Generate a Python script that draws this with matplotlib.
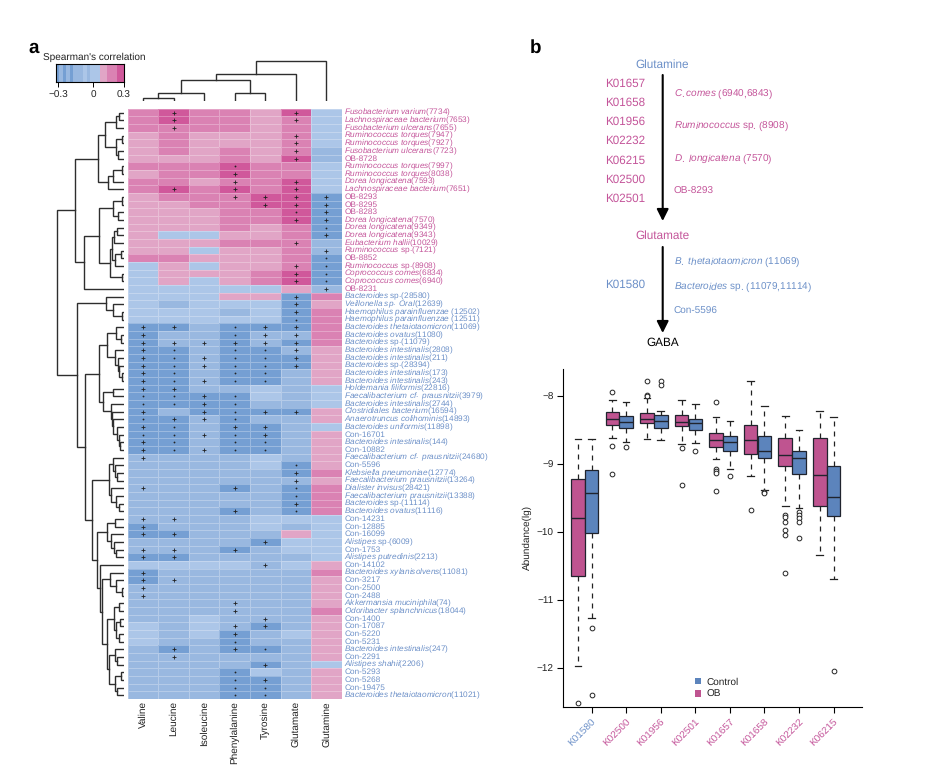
import matplotlib
matplotlib.use("Agg")
import numpy as np
import matplotlib.pyplot as plt
from matplotlib.colors import ListedColormap, BoundaryNorm
from matplotlib.patches import Patch

plt.rcParams['font.family'] = ['Liberation Sans', 'DejaVu Sans']
plt.rcParams['mathtext.fontset'] = 'custom'
plt.rcParams['mathtext.it'] = 'Liberation Sans:italic'
plt.rcParams['mathtext.rm'] = 'Liberation Sans'
plt.rcParams['mathtext.default'] = 'regular'
plt.rcParams['text.hinting'] = 'no_hinting'

W, H = 933, 773
PINK = '#C4559A'
BLUE = '#6C90C8'
OB_COL = '#BF5490'
CON_COL = '#5C84BC'

# ---------------- panel a data ----------------
amino_acids = ['Valine', 'Leucine', 'Isoleucine', 'Phenylalanine', 'Tyrosine', 'Glutamate', 'Glutamine']

taxa_italic = [
    'Fusobacterium varium', 'Lachnospiraceae bacterium', 'Fusobacterium ulcerans', 'Ruminococcus torques',
    'Ruminococcus torques', 'Fusobacterium ulcerans', '', 'Ruminococcus torques', 'Ruminococcus torques',
    'Dorea longicatena', 'Lachnospiraceae bacterium', '', '', '', 'Dorea longicatena', 'Dorea longicatena',
    'Dorea longicatena', 'Eubacterium hallii', 'Ruminococcus', '', 'Ruminococcus', 'Coprococcus comes',
    'Coprococcus comes', '', 'Bacteroides', 'Veillonella sp. Oral', 'Haemophilus parainfluenzae',
    'Haemophilus parainfluenzae', 'Bacteroides thetaiotaomicron', 'Bacteroides ovatus', 'Bacteroides',
    'Bacteroides intestinalis', 'Bacteroides intestinalis', 'Bacteroides', 'Bacteroides intestinalis',
    'Bacteroides intestinalis', 'Holdemania filiformis', 'Faecalibacterium cf. prausnitzii',
    'Bacteroides intestinalis', 'Clostridiales bacterium', 'Anaerotruncus colihominis', 'Bacteroides uniformis',
    '', 'Bacteroides intestinalis', '', 'Faecalibacterium cf. prausnitzii', '', 'Klebsiella pneumoniae',
    'Faecalibacterium prausnitzii', 'Dialister invisus', 'Faecalibacterium prausnitzii', 'Bacteroides',
    'Bacteroides ovatus', '', '', '', 'Alistipes', '', 'Alistipes putredinis', '', 'Bacteroides xylanisolvens',
    '', '', '', 'Akkermansia muciniphila', 'Odoribacter splanchnicus', '', '', '', '',
    'Bacteroides intestinalis', '', 'Alistipes shahii', '', '', '', 'Bacteroides thetaiotaomicron']

taxa_plain = [
    '(7734)', '(7653)', '(7655)', '(7947)', '(7927)', '(7723)', 'OB-8728', '(7997)', '(8038)', '(7593)', '(7651)',
    'OB-8293', 'OB-8295', 'OB-8283', '(7570)', '(9349)', '(9343)', '(10029)', ' sp.(7121)', 'OB-8852', ' sp.(8908)',
    '(6834)', '(6940)', 'OB-8231', ' sp.(28580)', '(12639)', ' (12502)', ' (12511)', '(11069)', '(11080)',
    ' sp.(11079)', '(2808)', '(211)', ' sp.(28394)', '(173)', '(243)', '(22816)', '(3979)', '(2744)', '(16594)',
    '(14893)', '(11898)', 'Con-16701', '(144)', 'Con-10882', '(24680)', 'Con-5596', '(12774)', '(13264)', '(28421)',
    '(13388)', ' sp.(11114)', '(11116)', 'Con-14231', 'Con-12885', 'Con-16099', ' sp.(6009)', 'Con-1753', '(2213)',
    'Con-14102', '(11081)', 'Con-3217', 'Con-2500', 'Con-2488', '(74)', '(18044)', 'Con-1400', 'Con-17087',
    'Con-5220', 'Con-5231', '(247)', 'Con-2291', '(2206)', 'Con-5293', 'Con-5268', 'Con-19475', '(11021)']

n_pink_taxa = 24

correlation = np.array([
    [.2,.3,.2,.2,.1,.3,-.1],[.2,.3,.2,.2,.1,.2,-.1],[.2,.2,.2,.2,.1,.2,-.1],[.1,.2,.1,.1,.1,.2,-.1],
    [.1,.2,.1,.1,.1,.2,-.1],[.1,.2,.1,.2,.1,.2,-.2],[.1,.1,.1,.2,.1,.3,-.2],[.2,.2,.2,.3,.2,.2,-.1],
    [.1,.2,.2,.3,.2,.2,-.1],[.2,.2,.1,.2,.2,.3,-.1],[.2,.3,.2,.3,.2,.3,-.1],[.1,.2,.2,.2,.3,.3,-.3],
    [.1,.1,.2,.2,.3,.3,-.3],[.1,.1,.1,.2,.2,.3,-.3],[.1,.1,.1,.2,.2,.3,-.3],[.1,.1,.1,.2,.1,.2,-.3],
    [.1,-.1,-.1,.1,.1,.2,-.3],[.1,.1,.1,.2,.2,.2,-.2],[.1,.1,-.1,.1,.1,.2,-.2],[.2,.2,.1,.1,.1,.2,-.3],
    [-.1,.1,-.1,.1,.1,.2,-.3],[-.1,.1,.1,.1,.2,.3,-.3],[-.1,.1,-.1,.1,.2,.3,-.3],[-.1,-.1,-.1,-.1,-.1,.1,-.2],
    [-.1,-.1,-.1,.1,.1,-.3,.2],[-.1,-.2,-.1,-.1,-.1,-.3,.1],[-.1,-.1,-.1,-.2,-.1,-.3,.2],[-.1,-.1,-.1,-.1,-.1,-.3,.2],
    [-.3,-.3,-.2,-.3,-.3,-.3,.2],[-.3,-.2,-.2,-.3,-.2,-.2,.2],[-.3,-.2,-.2,-.3,-.2,-.3,.2],[-.3,-.3,-.2,-.3,-.3,-.2,.1],
    [-.3,-.3,-.2,-.3,-.3,-.3,.1],[-.3,-.3,-.2,-.3,-.3,-.3,.1],[-.3,-.3,-.2,-.3,-.3,-.2,.1],[-.3,-.3,-.2,-.3,-.3,-.2,.1],
    [-.3,-.3,-.2,-.2,-.1,-.2,-.1],[-.3,-.3,-.3,-.3,-.1,-.2,-.1],[-.3,-.3,-.3,-.3,-.2,-.2,-.1],[-.3,-.2,-.3,-.3,-.3,-.3,.1],
    [-.3,-.3,-.2,-.3,-.2,-.2,.1],[-.3,-.3,-.2,-.3,-.3,-.2,-.1],[-.3,-.3,-.2,-.3,-.3,-.2,.1],[-.3,-.3,-.2,-.3,-.3,-.2,.1],
    [-.3,-.3,-.2,-.3,-.3,-.2,.1],[-.2,-.2,-.2,-.2,-.1,-.2,.1],[-.2,-.2,-.2,-.2,-.1,-.3,.1],[-.2,-.2,-.2,-.2,-.2,-.3,.2],
    [-.2,-.2,-.2,-.2,-.2,-.2,.1],[-.2,-.2,-.2,-.3,-.2,-.3,.2],[-.2,-.2,-.2,-.2,-.2,-.3,.2],[-.2,-.2,-.2,-.2,-.2,-.3,.2],
    [-.2,-.2,-.2,-.3,-.2,-.3,.2],[-.2,-.2,-.2,-.2,-.1,-.1,-.1],[-.3,-.2,-.2,-.2,-.1,-.2,-.1],[-.3,-.3,-.2,-.2,-.2,.1,-.1],
    [-.2,-.2,-.2,-.2,-.3,-.1,-.1],[-.2,-.2,-.2,-.3,-.2,-.1,-.1],[-.3,-.3,-.2,-.2,-.2,-.2,-.1],[-.1,-.1,-.1,-.1,-.2,-.1,.1],
    [-.3,-.2,-.2,-.2,-.2,-.2,.2],[-.3,-.2,-.2,-.2,-.2,-.2,.1],[-.2,-.2,-.2,-.2,-.2,-.2,.1],[-.2,-.2,-.2,-.2,-.2,-.2,.1],
    [-.2,-.2,-.2,-.2,-.2,-.2,.1],[-.2,-.2,-.2,-.2,-.2,-.2,.2],[-.2,-.2,-.1,-.2,-.2,-.2,.1],[-.1,-.2,-.1,-.2,-.3,-.2,.1],
    [-.1,-.2,-.1,-.3,-.2,-.1,.1],[-.1,-.2,-.2,-.3,-.2,-.2,.1],[-.2,-.3,-.2,-.3,-.3,-.2,.1],[-.2,-.2,-.2,-.2,-.2,-.2,.1],
    [-.2,-.2,-.2,-.2,-.3,-.2,-.1],[-.2,-.2,-.2,-.3,-.1,-.2,.1],[-.2,-.2,-.2,-.3,-.3,-.2,.1],[-.2,-.2,-.2,-.3,-.3,-.2,.1],
    [-.2,-.2,-.2,-.3,-.3,-.2,.1]])

significance = [
    ' +   + ', ' +   + ', ' +     ', '     + ', '     + ', '     + ', '     + ', '   .   ', '   +   ', '   + + ',
    ' + + + ', '   ++++', '    +++', '     .+', '     ++', '      .', '      +', '     + ', '      +', '      .',
    '     +.', '     +.', '     +.', '      +', '     + ', '     + ', '     + ', '     . ', '++ .++ ', '+  .++ ',
    '++++++ ', '+. ..+ ', '+.+..+ ', '+.+..+ ', '+. ..  ', '+.+..  ', '++     ', '..+.   ', '..+.   ', '+ +.++ ',
    '.++.   ', '+. ++  ', '..+.+  ', '+. ..  ', '+.+..  ', '+      ', '     . ', '     + ', '     + ', '+  + . ',
    '     . ', '     + ', '   + . ', '++     ', '+      ', '++     ', '    +  ', '++ +   ', '++     ', '    +  ',
    '+      ', '++     ', '+      ', '+      ', '   +   ', '   +   ', '    +  ', '   ++  ', '   +   ', '   .   ',
    ' + +.  ', ' +     ', '    +  ', '   .   ', '   .+  ', '   ..  ', '   ..  ']

# dendrogram node = (height, child, child); int = row or column number
left_tree = (67,
    (49,
        (26,
            (19, (8, (5, 1, 2), 3), (8, (2, 4, 5), (6, 6, 7))),
            (16, (11, (2, 8, 9), 10), 11)),
        (40,
            (25,
                (11, (2, 12, 13), (6, 14, 15)),
                (14, (12, (10, (7, 16, 17), 18), (9, (3, 19, 20), 21)), (2, 22, 23))),
            24)),
    (47,
        (18, 25, (11, 26, (2, 27, 28))),
        (39,
            (25,
                (17, (8, 29, (3, 30, 31)), (9, 32, (6, 33, (5, 34, (2, 35, 36))))),
                (21, (11, 37, 38), (13, 39, (12, 40, (11, 41, (7, 42, (5, 43, (4, 44, 45)))))))),
            (32,
                (15, (11, 46, (9, 47, (7, 48, 49))), (13, 50, (8, 51, (5, 52, 53)))),
                (27,
                    (17, (9, 54, 55), (13, 56, (10, 57, (8, 58, 59)))),
                    (24, 60,
                        (22,
                            (14, 61, (8, 62, (2, 63, 64))),
                            (17,
                                (10, (5, 65, 66), (8, (4, 67, 68), (5, 69, 70))),
                                (15, (9, 71, (7, 72, 73)), (9, (3, 74, 75), (7, 76, 77)))))))))))

top_tree = (40, (26.7, (20.7, (8, (2.7, 1, 2), 3), (8, 4, 5)), 6), 7)

colorbar_cells = [-.3,-.25,-.3,-.25,-.3,-.2,-.2,-.2,-.1,-.2,-.1,-.1,-.1,.1,.1,.2,.2,.2,.3,.3]
colorbar_tick_cells = [0.6, 10.9, 19.9]
colorbar_tick_text = ['\u22120.3', '0', '0.3']

# ---------------- panel b data ----------------
ko_gln_glu = ['K01657', 'K01658', 'K01956', 'K02232', 'K06215', 'K02500', 'K02501']
ko_glu_gaba = ['K01580']
taxa_gln_glu = [('C.comes', ' (6940,6843)'), ('Ruminococcus', ' sp. (8908)'), ('D. longicatena', ' (7570)'), ('', 'OB-8293')]
taxa_glu_gaba = [('B. thetaiotaomicron', ' (11069)'), ('Bacteroides', ' sp. (11079,11114)'), ('', 'Con-5596')]

box_genes = ['K01580', 'K02500', 'K01956', 'K02501', 'K01657', 'K01658', 'K02232', 'K06215']
ob_q1 = [-10.65, -8.42, -8.40, -8.44, -8.75, -8.85, -9.03, -9.62]
ob_med = [-9.80, -8.33, -8.34, -8.38, -8.64, -8.65, -8.86, -9.16]
ob_q3 = [-9.22, -8.23, -8.25, -8.27, -8.54, -8.42, -8.62, -8.61]
ob_lo = [-11.97, -8.61, -8.63, -8.71, -8.93, -9.17, -9.62, -10.34]
ob_hi = [-8.63, -8.06, -8.02, -8.06, -8.30, -7.78, -8.29, -8.22]
ob_fliers = [[-12.52], [-7.94, -8.73, -9.14], [-7.78, -7.98, -8.00], [-8.76, -9.31],
             [-8.08, -9.07, -9.10, -9.13, -9.39], [-9.67], [-9.75, -9.78, -9.86, -9.97, -10.04, -10.61], []]
con_q1 = [-10.01, -8.46, -8.47, -8.49, -8.80, -8.91, -9.14, -9.76]
con_med = [-9.43, -8.38, -8.36, -8.40, -8.67, -8.80, -8.91, -9.49]
con_q3 = [-9.09, -8.29, -8.28, -8.33, -8.59, -8.58, -8.80, -9.02]
con_lo = [-11.27, -8.68, -8.65, -8.69, -9.07, -9.38, -9.64, -10.70]
con_hi = [-8.63, -8.08, -8.21, -8.12, -8.37, -8.15, -8.49, -8.31]
con_fliers = [[-11.41, -12.40], [-8.75], [-7.77, -7.84], [-8.80], [-9.18], [-9.41, -9.43],
              [-9.71, -9.75, -9.80, -9.86, -10.09], [-12.05]]


# ---------------- helpers ----------------
fig = plt.figure(figsize=(W / 100, H / 100), dpi=100, facecolor='white')

def ax_px(x0, y0, x1, y1, **kw):
    return fig.add_axes([x0 / W, 1 - y1 / H, (x1 - x0) / W, (y1 - y0) / H], **kw)

def rich(it, pl):
    s = ''
    if it:
        s += r'$\mathit{' + it.replace(' ', r'\ ') + '}$'
    return s + pl

def draw_tree(ax, node, horizontal, col='#2e2e2e'):
    if isinstance(node, int):
        return node - 0.5, 0
    h, a, b = node
    pa, ha = draw_tree(ax, a, horizontal, col)
    pb, hb = draw_tree(ax, b, horizontal, col)
    if horizontal:
        ax.plot([ha, h, h, hb], [pa, pa, pb, pb], color=col, lw=1.0, solid_joinstyle='miter')
    else:
        ax.plot([pa, pa, pb, pb], [ha, h, h, hb], color=col, lw=1.0, solid_joinstyle='miter')
    return (pa + pb) / 2, h

# ---------------- heatmap ----------------
HX0, HX1, HY0, HY1 = 127.7, 341.7, 108.7, 699.0
n_rows, n_cols = correlation.shape
levels = [-.35, -.25, -.15, 0, .15, .25, .35]
heat_cols = ['#759FD3', '#99B8E0', '#ACC6E8', '#E1A5C6', '#DA82B3', '#D0589B']
cmap = ListedColormap(heat_cols)
norm = BoundaryNorm(levels, cmap.N)

ax = ax_px(HX0, HY0, HX1, HY1)
ax.pcolormesh(np.arange(n_cols + 1), np.arange(n_rows + 1), correlation, cmap=cmap, norm=norm,
              edgecolors=(1, 1, 1, 0.28), linewidth=0.6)
ax.set_xlim(0, n_cols)
ax.set_ylim(n_rows, 0)
for r, row in enumerate(significance):
    for c, ch in enumerate(row):
        if ch == '+':
            ax.plot(c + .5, r + .5, marker='+', ms=3.4, mew=0.6, color='#222222')
        elif ch == '.':
            ax.plot(c + .5, r + .5, marker='o', ms=1.3, mew=0, color='#222222')
ax.set_xticks(np.arange(n_cols) + .5)
ax.set_xticklabels(amino_acids, rotation=90, fontsize=7.2, color='#222222', va='top', ha='center')
ax.tick_params(axis='x', length=0, pad=1.5)
ax.yaxis.tick_right()
ax.set_yticks(np.arange(n_rows) + .5)
ax.set_yticklabels([rich(i, p) for i, p in zip(taxa_italic, taxa_plain)], fontsize=5.95, va='center')
ax.tick_params(axis='y', length=0, pad=2)
for i, lab in enumerate(ax.get_yticklabels()):
    lab.set_color(PINK if i < n_pink_taxa else BLUE)
for s in ax.spines.values():
    s.set_visible(False)

# dendrograms
axl = ax_px(30, HY0, 124, HY1)
draw_tree(axl, left_tree, True)
axl.set_xlim(94, 0)
axl.set_ylim(n_rows, 0)
axl.axis('off')

axt = ax_px(HX0, 50, HX1, 100.7)
draw_tree(axt, top_tree, False)
axt.set_xlim(0, n_cols)
axt.set_ylim(0, 50.7)
axt.axis('off')

# colour key
axc = ax_px(56, 64.3, 124, 81.7)
axc.pcolormesh(np.arange(len(colorbar_cells) + 1), [0, 1], np.array([colorbar_cells]), cmap=cmap, norm=norm)
axc.set_yticks([])
axc.set_xticks(colorbar_tick_cells)
axc.set_xticklabels(colorbar_tick_text, fontsize=7.2, color='#222222')
axc.tick_params(axis='x', length=3.8, width=0.7, pad=2.5)
for s in axc.spines.values():
    s.set_linewidth(0.8)

# ---------------- boxplots ----------------
def stats(q1, med, q3, lo, hi, fl):
    return [dict(med=m, q1=a, q3=b, whislo=l, whishi=h, fliers=f)
            for a, m, b, l, h, f in zip(q1, med, q3, lo, hi, fl)]

axb = ax_px(563.3, 368.5, 862.3, 707.3)
tick_pos = np.arange(len(box_genes))
BOX_W = 0.395
for st, pos, col in ((stats(ob_q1, ob_med, ob_q3, ob_lo, ob_hi, ob_fliers), tick_pos - 0.4, OB_COL),
                     (stats(con_q1, con_med, con_q3, con_lo, con_hi, con_fliers), tick_pos, CON_COL)):
    axb.bxp(st, positions=pos, widths=BOX_W, patch_artist=True, manage_ticks=False, capwidths=0.19,
            boxprops=dict(facecolor=col, edgecolor='#20242e', linewidth=0.9),
            medianprops=dict(color='#20242e', linewidth=1.0),
            whiskerprops=dict(color='#222222', linewidth=0.9, linestyle=(0, (4, 4))),
            capprops=dict(color='#222222', linewidth=0.9),
            flierprops=dict(marker='o', ms=3.4, mfc='white', mec='#222222', mew=0.7, ls='none'))
axb.set_xlim(-0.82, 7.83)
axb.set_ylim(-12.584, -7.59)
axb.set_yticks([-8, -9, -10, -11, -12])
axb.set_yticklabels(['\u22128', '\u22129', '\u221210', '\u221211', '\u221212'], fontsize=7.2, color='#222222')
axb.set_xticks(tick_pos)
axb.set_xticklabels(box_genes, rotation=45, ha='right', rotation_mode='anchor', fontsize=7.2)
for i, lab in enumerate(axb.get_xticklabels()):
    lab.set_color(BLUE if i == 0 else PINK)
axb.tick_params(axis='both', length=4.6, width=0.8, pad=2.5)
axb.spines['top'].set_visible(False)
axb.spines['right'].set_visible(False)
axb.set_ylabel('Abundance(lg)', fontsize=7.2, color='#222222', labelpad=3)
axb.legend(handles=[Patch(facecolor=CON_COL, label='Control'), Patch(facecolor=OB_COL, label='OB')],
           loc='lower left', bbox_to_anchor=(0.423, 0.009), frameon=False, fontsize=7.2,
           handlelength=0.67, handleheight=0.67, handletextpad=0.55, labelspacing=0.33, borderpad=0, labelcolor='#222222')

# ---------------- overlay: panel letters and pathway ----------------
ov = fig.add_axes([0, 0, 1, 1], facecolor='none')
ov.set_xlim(0, W)
ov.set_ylim(H, 0)
ov.axis('off')
ov.text(28, 47.5, 'a', fontsize=13.5, fontweight='bold', va='center', color='black')
ov.text(529.5, 47.5, 'b', fontsize=13.5, fontweight='bold', va='center', color='black')
ov.text(94.5, 57.5, "Spearman's correlation", fontsize=7.2, color='#222222', ha='center', va='center')

ov.text(662.5, 65, 'Glutamine', fontsize=8.5, color=BLUE, ha='center', va='center')
ov.text(662.5, 236, 'Glutamate', fontsize=8.5, color=PINK, ha='center', va='center')
ov.text(662.5, 343, 'GABA', fontsize=8.5, color='black', ha='center', va='center')
for y0, y1 in ((75, 221), (247, 333)):
    ov.annotate('', xy=(662.7, y1), xytext=(662.7, y0),
                arrowprops=dict(arrowstyle='-|>,head_length=0.5,head_width=0.25', lw=1.5, color='black',
                                shrinkA=0, shrinkB=0, mutation_scale=14))
for k, y in zip(ko_gln_glu, [83.5, 102.7, 122, 141, 160.7, 180, 199]):
    ov.text(604.7, y, k, fontsize=8.4, color=PINK, va='center')
for k, y in zip(ko_glu_gaba, [285]):
    ov.text(604.7, y, k, fontsize=8.4, color=BLUE, va='center')
for (i, p), y in zip(taxa_gln_glu, [94.7, 126.7, 159, 191]):
    ov.text(673.7, y, rich(i, p), fontsize=7.2, color=PINK, va='center')
for (i, p), y in zip(taxa_glu_gaba, [262.7, 287, 311.3]):
    ov.text(673.7, y, rich(i, p), fontsize=7.2, color=BLUE, va='center')

fig.savefig('out.png', dpi=100)
